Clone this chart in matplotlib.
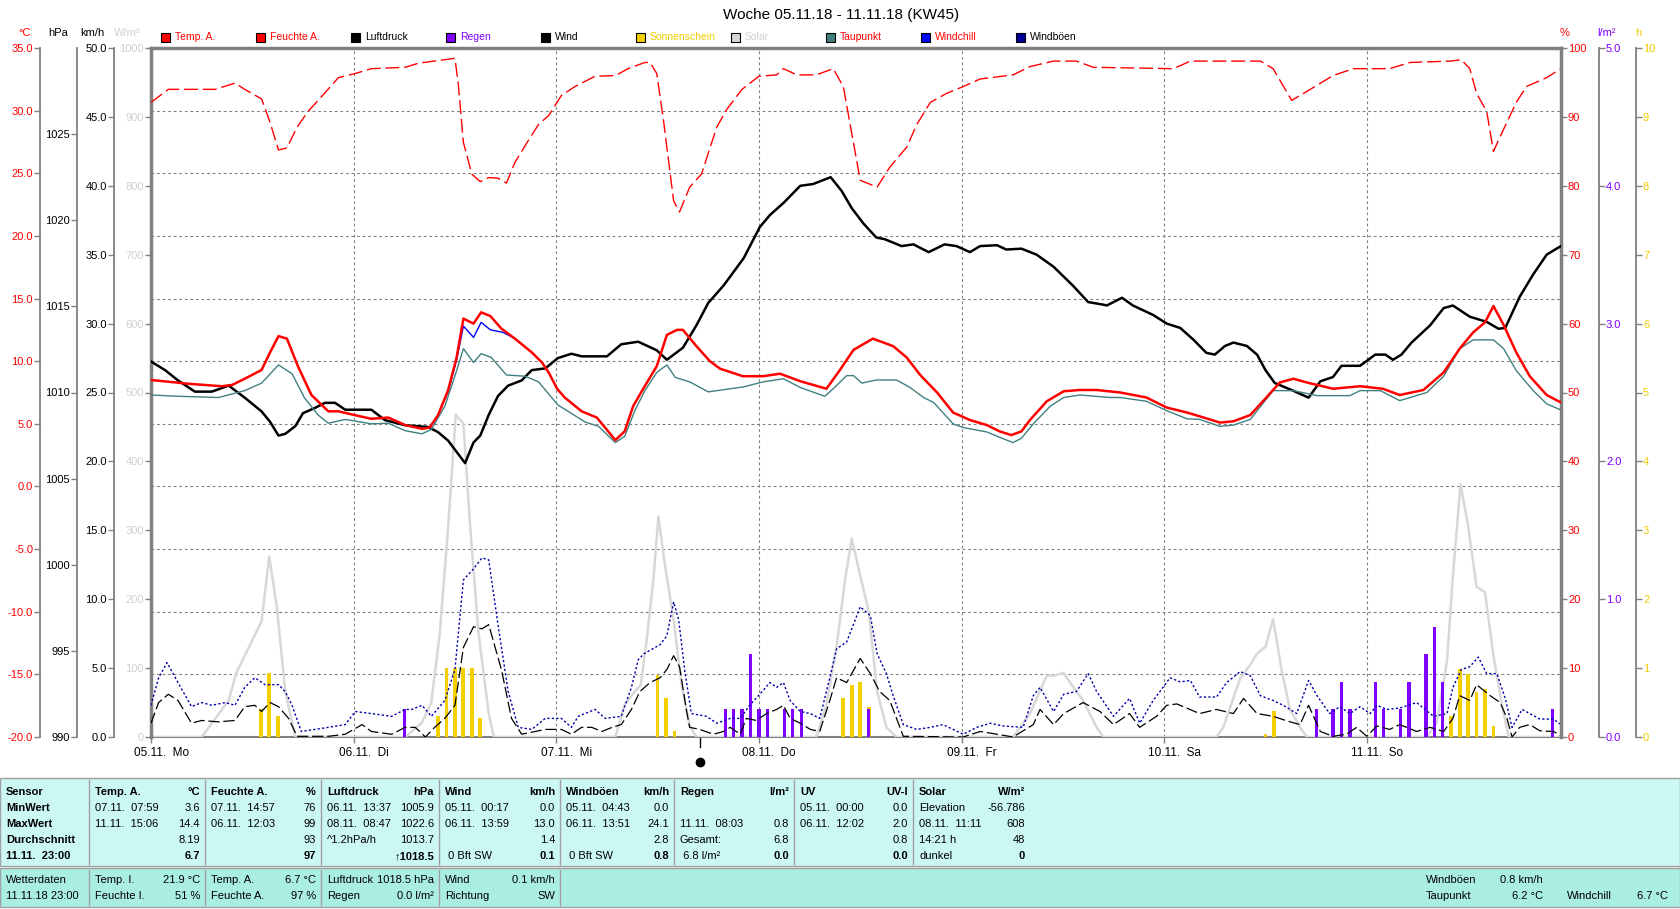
import matplotlib
matplotlib.use("Agg")
import matplotlib.pyplot as plt
from matplotlib.patches import Rectangle

plt.rcParams["font.family"] = ["Liberation Sans", "DejaVu Sans"]

# hours since 05.11.18 00:00
TEMP_H = [0, 4.4, 8.4, 9.6, 11.1, 13.1, 14.1, 15.1, 16.1, 17.4, 19.0, 21.0, 22.2, 24.1, 26.1,
          28.1, 30.1, 32.1, 33.0, 34.0, 35.2, 36.2, 37.0, 38.2, 39.1, 40.2, 41.5, 43.1, 45.1,
          46.3, 47.1, 48.1, 49.0, 51.0, 52.8, 55.0, 56.1, 57.1, 58.3, 59.9, 61.1, 62.3, 63.0,
          64.6, 66.2, 67.4, 70.1, 72.5, 74.5, 76.9, 80.0, 81.6, 83.2, 85.5, 87.9, 89.5, 91.1,
          93.1, 95.0, 97.0, 99.0, 100.5, 101.9, 103.1, 104.1, 106.1, 108.1, 110.0, 112.0, 114.8,
          117.9, 120.3, 122.7, 124.2, 126.6, 128.2, 130.2, 132.1, 133.7, 135.3, 136.9, 140.0,
          143.2, 145.9, 147.9, 150.7, 153.1, 155.0, 156.6, 158.0, 159.0, 160.2, 161.7, 163.3,
          165.3, 167.0]
TEMP = [8.5, 8.2, 8.0, 8.1, 8.6, 9.3, 10.7, 12.0, 11.8, 9.6, 7.3, 6.0, 6.0, 5.7, 5.4,
        5.5, 4.9, 4.6, 4.7, 5.7, 7.7, 10.3, 13.4, 13.0, 13.9, 13.6, 12.6, 11.8, 10.7,
        9.9, 9.1, 7.8, 7.1, 6.0, 5.5, 3.7, 4.4, 6.4, 7.8, 9.6, 12.1, 12.5, 12.5,
        11.2, 10.0, 9.4, 8.8, 8.8, 9.0, 8.4, 7.8, 9.3, 10.9, 11.8, 11.2, 10.3, 8.9,
        7.5, 5.9, 5.3, 4.9, 4.4, 4.1, 4.4, 5.3, 6.8, 7.6, 7.7, 7.7, 7.5,
        7.1, 6.3, 5.9, 5.6, 5.1, 5.2, 5.7, 7.1, 8.3, 8.6, 8.3, 7.8,
        8.0, 7.8, 7.3, 7.7, 9.1, 11.0, 12.3, 13.1, 14.4, 12.9, 10.7, 8.8,
        7.3, 6.7]

DEW_H = [0, 3.2, 8.0, 11.1, 13.1, 15.1, 16.7, 18.2, 19.8, 21.0, 23.0, 26.1, 28.1, 30.1, 32.1,
         33.2, 34.8, 36.2, 37.0, 38.2, 39.1, 40.3, 42.1, 44.3, 45.9, 48.2, 49.4, 51.4, 53.0,
         55.0, 56.1, 57.3, 58.5, 59.9, 61.1, 62.1, 63.8, 66.0, 68.6, 70.2, 72.5, 74.9, 76.9,
         79.8, 80.8, 82.4, 83.2, 84.2, 85.9, 88.3, 89.9, 91.5, 92.7, 95.0, 96.2, 99.0, 100.6,
         102.1, 103.1, 104.5, 106.5, 108.1, 110.0, 113.6, 114.8, 117.9, 120.3, 122.7, 124.2,
         126.6, 128.2, 130.2, 132.9, 135.3, 138.1, 142.0, 143.2, 145.6, 147.9, 151.1, 153.1,
         155.0, 156.6, 159.0, 160.2, 161.7, 163.7, 165.3, 167.0]
DEW = [7.3, 7.2, 7.1, 7.65, 8.25, 9.7, 9.0, 7.05, 5.7, 5.05, 5.35, 5.0, 5.05, 4.45, 4.2,
       4.55, 6.4, 9.25, 11.0, 9.9, 10.6, 10.3, 8.9, 8.8, 8.35, 6.5, 6.0, 5.15, 4.8,
       3.5, 4.0, 6.05, 7.65, 9.1, 9.7, 8.7, 8.35, 7.55, 7.8, 7.95, 8.35, 8.6, 7.9,
       7.2, 7.8, 8.85, 8.85, 8.25, 8.5, 8.5, 7.9, 7.1, 6.7, 5.0, 4.7, 4.35, 3.9,
       3.5, 3.85, 5.0, 6.4, 7.1, 7.3, 7.1, 7.1, 6.8, 6.05, 5.4, 5.35,
       4.8, 4.9, 5.35, 7.65, 7.65, 7.25, 7.25, 7.65, 7.65, 6.85, 7.5, 8.8,
       11.0, 11.7, 11.7, 11.0, 9.25, 7.65, 6.6, 6.1]

CHILL_H = [33.0, 34.0, 35.2, 36.2, 37.0, 38.2, 39.1, 40.2, 41.7, 43.1]
CHILL = [4.7, 5.7, 7.6, 10.1, 12.8, 11.9, 13.1, 12.5, 12.3, 11.8]

HUM_H = [0, 2.05, 7.6, 9.95, 11.1, 13.1, 14.1, 15.1, 16.1, 17.3, 18.6, 19.8, 22.2, 24.2, 26.1,
         30.1, 31.7, 36.0, 36.4, 37.0, 38.0, 39.0, 40.0, 41.1, 42.1, 43.1, 44.7, 45.9, 47.1,
         48.6, 50.2, 52.6, 55.0, 56.5, 58.5, 59.1, 59.9, 60.7, 61.9, 62.6, 63.8, 65.2, 67.0,
         68.2, 70.0, 72.0, 74.1, 74.9, 76.5, 78.8, 80.8, 82.0, 83.0, 84.0, 86.0, 87.5, 89.5,
         90.7, 92.3, 94.2, 96.2, 98.2, 102.1, 104.1, 106.9, 109.6, 111.6, 121.1, 123.1, 131.4,
         132.9, 135.1, 136.9, 140.0, 142.4, 146.7, 149.1, 153.9, 155.2, 156.2, 157.0, 158.2,
         159.0, 160.2, 161.7, 162.9, 165.3, 167.0]
HUM = [92.1, 94.0, 94.0, 94.9, 94.0, 92.6, 89.2, 85.2, 85.5, 88.5, 90.8, 92.4, 95.7, 96.3, 97.0,
       97.2, 97.8, 98.5, 94.7, 86.3, 81.7, 80.6, 81.2, 81.1, 80.4, 83.4, 86.6, 88.9, 90.2,
       93.1, 94.4, 95.9, 96.0, 97.0, 97.9, 97.9, 96.3, 89.5, 77.8, 76.2, 79.8, 81.7, 88.5,
       91.1, 94.0, 95.9, 96.1, 97.0, 96.1, 96.1, 97.0, 94.4, 87.6, 80.8, 79.8, 82.7, 85.6,
       88.9, 92.1, 93.4, 94.4, 95.5, 96.1, 97.3, 98.1, 98.1, 97.2, 97.0, 98.1, 98.1,
       97.0, 92.4, 93.7, 96.0, 97.0, 97.0, 97.9, 98.1, 98.3, 97.0, 93.4, 90.8,
       85.0, 88.2, 92.1, 94.4, 95.7, 97.0]

PRES_H = [0, 1.66, 3.2, 5.2, 7.2, 9.2, 11.1, 13.1, 14.1, 15.1, 15.9, 17.1, 18.0, 19.4, 20.6,
          21.8, 23.0, 26.1, 27.7, 30.1, 32.8, 34.0, 35.2, 37.2, 38.2, 39.0, 40.0, 41.1, 42.3,
          43.9, 45.1, 46.7, 48.2, 49.8, 51.0, 54.0, 55.7, 57.7, 59.9, 61.1, 63.0, 64.6, 66.0,
          67.8, 70.2, 72.1, 73.3, 74.9, 76.9, 78.4, 80.5, 81.8, 83.0, 84.4, 85.9, 86.9, 88.9,
          90.3, 92.1, 94.0, 95.4, 97.0, 98.2, 100.2, 101.3, 103.1, 104.9, 106.9, 109.2, 111.0,
          112.8, 113.2, 115.0, 116.3, 118.7, 120.3, 121.9, 123.5, 125.0, 126.0, 127.2, 128.2,
          129.8, 131.0, 132.0, 133.1, 135.3, 137.1, 138.5, 140.0, 141.0, 143.2, 145.0, 146.2,
          147.1, 148.1, 149.3, 151.5, 153.1, 154.2, 156.2, 158.2, 159.6, 160.4, 162.1, 163.7,
          165.3, 166.3, 167.0]
PRES = [1011.8, 1011.3, 1010.7, 1010.05, 1010.05, 1010.4, 1009.7, 1008.9, 1008.3, 1007.5,
        1007.6, 1008.05, 1008.8, 1009.1, 1009.4, 1009.4, 1009.0, 1009.0, 1008.4, 1008.1,
        1008.0, 1007.7, 1007.2, 1005.9, 1007.1, 1007.5, 1008.7, 1009.8, 1010.4, 1010.7,
        1011.3, 1011.4, 1012.0, 1012.25, 1012.1, 1012.1, 1012.8, 1012.95, 1012.45, 1011.9,
        1012.6, 1013.9, 1015.2, 1016.2, 1017.8, 1019.6, 1020.3, 1021.0, 1022.0, 1022.1,
        1022.5, 1021.7, 1020.7, 1019.8, 1019.0, 1018.9, 1018.5, 1018.6, 1018.15, 1018.6,
        1018.5, 1018.15, 1018.5, 1018.55, 1018.3, 1018.35, 1018.0, 1017.3, 1016.2, 1015.25,
        1015.1, 1015.05, 1015.5, 1015.05, 1014.5, 1014.0, 1013.75, 1013.05, 1012.3, 1012.2,
        1012.7, 1012.9, 1012.7, 1012.2, 1011.3, 1010.55, 1010.1, 1009.7, 1010.65, 1010.9,
        1011.55, 1011.55, 1012.2, 1012.2, 1011.9, 1012.2, 1012.9, 1013.9, 1014.9, 1015.05,
        1014.4, 1014.1, 1013.7, 1013.75, 1015.55, 1016.85, 1018.0, 1018.3, 1018.5]

SOL_H = [0, 6.0, 9.2, 10.1, 13.1, 14.0, 14.9, 15.9, 17.1, 30.1, 32.1, 33.2, 34.2, 35.2, 36.1,
         37.0, 37.8, 38.8, 40.0, 40.6, 55.0, 56.1, 57.3, 58.0, 58.7, 59.5, 60.1, 60.9, 61.9,
         62.8, 63.8, 64.6, 78.8, 80.0, 81.2, 82.2, 83.0, 84.0, 85.0, 86.0, 87.1, 88.3, 102.1,
         104.1, 106.1, 106.9, 108.1, 109.2, 110.4, 112.0, 112.8, 126.2, 127.0, 129.0, 130.2,
         131.0, 132.0, 132.9, 133.9, 134.9, 136.1, 136.9, 151.1, 152.3, 153.5, 154.2, 155.1,
         156.0, 157.0, 158.0, 159.0, 160.0, 160.8, 167.0]
SOL = [0, 0, 53, 93, 168, 262, 189, 66, 0, 0, 21, 50, 150, 306, 468,
       455, 306, 150, 34, 0, 0, 47, 66, 75, 140, 228, 320, 247, 170,
       79, 16, 0, 0, 47, 131, 228, 288, 234, 183, 66, 14, 0, 0,
       34, 89, 89, 93, 73, 53, 14, 0, 0, 14, 85, 105,
       121, 131, 171, 98, 40, 14, 0, 0, 21, 111, 234, 367,
       306, 218, 210, 118, 47, 0, 0]

WIND_H = [0, 0.9, 2.05, 3.2, 4.8, 6.0, 7.95, 9.95, 11.1, 12.3, 13.1, 14.1, 15.1, 16.3, 17.3,
          21.0, 23.0, 25.0, 26.1, 28.5, 30.1, 31.3, 32.5, 33.6, 34.8, 36.0, 37.0, 38.2, 39.2,
          40.0, 41.5, 42.7, 43.9, 46.7, 48.6, 49.8, 51.0, 52.2, 53.4, 54.6, 55.7, 56.9, 57.9,
          59.1, 60.3, 61.1, 61.9, 62.6, 63.4, 63.8, 65.0, 66.6, 67.8, 68.6, 69.8, 70.5, 71.7,
          72.9, 74.1, 74.9, 75.7, 76.9, 78.1, 79.2, 80.4, 81.2, 82.4, 84.0, 85.2, 86.3, 87.5,
          88.3, 89.1, 96.2, 98.2, 100.2, 102.1, 104.5, 105.3, 106.9, 108.1, 110.4, 112.4, 114.0,
          115.9, 117.1, 119.1, 120.3, 121.5, 124.2, 126.2, 128.2, 129.4, 131.0, 132.9, 134.9,
          136.1, 137.1, 138.5, 140.0, 141.6, 142.8, 144.0, 145.2, 146.7, 147.9, 149.9, 151.5,
          153.1, 154.2, 155.0, 156.2, 157.0, 158.6, 159.8, 160.6, 161.2, 162.1, 163.3, 164.5,
          166.1, 167.0]
WIND = [1.0, 2.5, 3.1, 2.65, 1.0, 1.2, 1.1, 1.2, 2.2, 2.3, 1.85, 2.5, 2.2, 1.35, 0.05,
        0.05, 0.2, 0.9, 0.4, 0.2, 0.7, 0.7, 0.0, 0.7, 1.35, 2.3, 6.5, 8.0, 7.85,
        8.15, 4.9, 1.35, 0.2, 0.55, 0.55, 0.2, 0.7, 0.7, 0.4, 0.7, 0.9, 2.0, 3.3,
        3.95, 4.3, 4.9, 5.9, 5.1, 2.0, 0.7, 0.55, 0.2, 0.4, 0.7, 0.2, 1.35, 1.2,
        1.7, 2.0, 2.3, 1.35, 1.0, 0.55, 0.4, 2.65, 4.3, 3.95, 5.7, 4.6, 3.3, 2.65,
        1.35, 0.05, 0.0, 0.4, 0.2, 0.0, 0.9, 2.0, 0.9, 1.7, 2.5, 1.85, 0.9,
        1.7, 0.7, 1.5, 2.3, 2.4, 1.7, 2.0, 1.7, 2.8, 1.7, 1.5, 1.1,
        0.9, 2.3, 0.4, 0.05, 0.2, 0.7, 0.05, 0.8, 0.55, 0.9, 0.4, 0.7,
        0.4, 1.35, 3.0, 2.65, 3.8, 3.0, 2.5, 1.35, 0.0, 0.7, 0.9, 0.45,
        0.4, 0.1]

GUST_H = [0, 0.9, 1.9, 3.2, 4.8, 6.0, 7.2, 8.8, 9.95, 11.1, 12.3, 13.5, 15.1, 15.9, 16.7,
          17.8, 21.0, 23.0, 24.2, 26.1, 28.5, 30.1, 30.9, 32.1, 33.2, 34.8, 36.0, 37.0, 38.2,
          39.2, 40.0, 41.1, 42.3, 43.5, 45.1, 46.7, 48.6, 49.8, 50.6, 52.6, 53.8, 55.7, 56.9,
          57.7, 58.4, 60.3, 61.1, 61.9, 62.5, 63.2, 64.0, 65.8, 67.0, 68.6, 69.8, 70.9, 72.1,
          73.3, 74.1, 74.9, 75.7, 76.9, 78.1, 79.2, 80.4, 81.2, 82.4, 84.0, 85.2, 86.0, 87.1,
          87.9, 89.1, 90.7, 92.3, 93.8, 96.2, 97.8, 99.4, 100.9, 103.3, 104.5, 105.3, 106.9,
          108.1, 109.6, 111.0, 112.0, 114.0, 115.9, 117.1, 118.7, 120.7, 121.9, 123.1, 124.2,
          126.2, 127.4, 129.0, 130.2, 131.4, 132.9, 134.1, 135.7, 137.1, 138.1, 139.6, 140.8,
          142.0, 143.2, 144.4, 145.2, 146.4, 147.9, 149.9, 151.9, 153.5, 154.2, 155.2, 156.2,
          157.2, 158.2, 159.4, 160.4, 161.2, 162.4, 163.3, 164.5, 166.1, 167.0]
GUST = [2.3, 4.3, 5.4, 3.95, 2.2, 2.5, 2.3, 2.5, 2.3, 3.6, 4.3, 3.8, 3.8, 3.3, 2.3,
        0.4, 0.7, 0.9, 1.85, 1.7, 1.5, 2.0, 2.0, 2.3, 1.5, 2.65, 4.9, 11.4, 12.2,
        13.0, 12.85, 8.15, 3.3, 0.7, 0.55, 1.35, 1.35, 0.7, 1.5, 2.0, 1.35, 1.5, 3.6,
        5.6, 6.05, 6.7, 7.35, 9.8, 8.5, 4.9, 1.7, 1.5, 1.0, 1.35, 1.35, 2.3, 3.1,
        3.95, 3.6, 3.95, 2.65, 1.85, 1.7, 1.35, 4.3, 6.4, 6.9, 9.45, 8.8, 6.05, 4.6,
        3.0, 0.9, 0.55, 0.7, 0.9, 0.2, 0.7, 1.0, 0.8, 0.7, 3.0, 3.6, 1.85,
        3.1, 3.3, 4.6, 3.3, 1.5, 2.8, 1.0, 2.65, 4.3, 4.0, 4.1, 2.9,
        2.9, 3.95, 4.75, 4.45, 3.0, 2.65, 2.3, 1.7, 4.1, 3.0, 1.7, 2.2,
        1.7, 2.2, 1.7, 2.3, 2.0, 2.1, 2.5, 1.5, 1.7, 3.6, 4.9, 5.1,
        5.8, 4.6, 4.6, 2.8, 0.7, 2.0, 1.7, 1.3, 1.3, 0.9]

RAIN_H = [30, 68, 69, 70, 71, 72, 73, 75, 76, 77, 85, 138, 140, 141, 142, 145, 146, 148, 149,
          151, 152, 153, 166]
RAIN = [0.2, 0.2, 0.2, 0.2, 0.6, 0.2, 0.2, 0.2, 0.2, 0.2, 0.2, 0.2, 0.2, 0.4, 0.2, 0.4, 0.2,
        0.2, 0.4, 0.6, 0.8, 0.4, 0.2]

SUN_H = [13, 14, 15, 34, 35, 36, 37, 38, 39, 60, 61, 62, 82, 83, 84, 85, 132, 133,
         154, 155, 156, 157, 158, 159]
SUN = [0.41, 0.93, 0.3, 0.3, 1.0, 1.0, 1.0, 1.0, 0.27, 0.9, 0.56, 0.08, 0.56, 0.76, 0.8, 0.43,
       0.05, 0.38, 0.3, 0.98, 0.92, 0.66, 0.69, 0.16]

DAY_LABELS = ["05.11.  Mo", "06.11.  Di", "07.11.  Mi", "08.11.  Do", "09.11.  Fr",
              "10.11.  Sa", "11.11.  So"]
MARKER_H = 65.0

LEGEND = [("Temp. A.", "#ff0000", "#ff0000"), ("Feuchte A.", "#ff0000", "#ff0000"),
          ("Luftdruck", "#000000", "#000000"), ("Regen", "#8000ff", "#8000ff"),
          ("Wind", "#000000", "#000000"), ("Sonnenschein", "#f5d000", "#f0cc00"),
          ("Solar", "#d8d8d8", "#d0d0d0"), ("Taupunkt", "#408080", "#ff0000"),
          ("Windchill", "#0000ff", "#ff0000"), ("Windböen", "#000099", "#000000")]

SUMMARY = [
    [("Sensor", ""), ("MinWert", ""), ("MaxWert", ""), ("Durchschnitt", ""), ("11.11.  23:00", "")],
    [("Temp. A.", "°C"), ("07.11.  07:59", "3.6"), ("11.11.  15:06", "14.4"), ("", "8.19"), ("", "6.7")],
    [("Feuchte A.", "%"), ("07.11.  14:57", "76"), ("06.11.  12:03", "99"), ("", "93"), ("", "97")],
    [("Luftdruck", "hPa"), ("06.11.  13:37", "1005.9"), ("08.11.  08:47", "1022.6"),
     ("^1.2hPa/h", "1013.7"), ("", "↑1018.5")],
    [("Wind", "km/h"), ("05.11.  00:17", "0.0"), ("06.11.  13:59", "13.0"), ("", "1.4"), (" 0 Bft SW", "0.1")],
    [("Windböen", "km/h"), ("05.11.  04:43", "0.0"), ("06.11.  13:51", "24.1"), ("", "2.8"), (" 0 Bft SW", "0.8")],
    [("Regen", "l/m²"), ("", ""), ("11.11.  08:03", "0.8"), ("Gesamt:", "6.8"), (" 6.8 l/m²", "0.0")],
    [("UV", "UV-I"), ("05.11.  00:00", "0.0"), ("06.11.  12:02", "2.0"), ("", "0.8"), ("", "0.0")],
    [("Solar", "W/m²"), ("Elevation", "-56.786"), ("08.11.  11:11", "608"), ("14:21 h", "48"), ("dunkel", "0")],
]
CURRENT = [
    [("Wetterdaten", ""), ("11.11.18 23:00", "")],
    [("Temp. I.", "21.9 °C"), ("Feuchte I.", "51 %")],
    [("Temp. A.", "6.7 °C"), ("Feuchte A.", "97 %")],
    [("Luftdruck", "1018.5 hPa"), ("Regen", "0.0 l/m²")],
    [("Wind", "0.1 km/h"), ("Richtung", "SW")],
]
CURRENT_EXTRA = [("Windböen", "0.8 km/h", "", ""), ("Taupunkt", "6.2 °C", "Windchill", "6.7 °C")]

GRAY = "#808080"
W_PX, H_PX = 1680, 909


def fx(px):
    return px / W_PX


def fy(py):
    return 1 - py / H_PX


fig = plt.figure(figsize=(16.8, 9.09), dpi=100)
ax = fig.add_axes([fx(151), fy(737), 1410 / W_PX, 689 / H_PX])
ax.set_xlim(0, 167)
ax.set_ylim(-20, 35)
ax.set_yticks(range(-20, 36, 5), [f"{v:.1f}" for v in range(-20, 36, 5)])
ax.tick_params(axis="y", length=4, width=1, color=GRAY, labelcolor="#ff0000", labelsize=8, pad=1)
ax.set_xticks(range(0, 168, 24), [])
ax.tick_params(axis="x", length=4, width=1, color=GRAY)
ax.spines["left"].set_position(("axes", (40 - 151) / 1410))
ax.spines["left"].set_color(GRAY)
ax.spines["left"].set_linewidth(1.3)
ax.spines["right"].set_visible(False)
for s in ("top", "bottom"):
    ax.spines[s].set_color(GRAY)
ax.spines["top"].set_linewidth(2.5)
ax.spines["bottom"].set_linewidth(1.5)

for v in range(-15, 35, 5):
    ax.axhline(v, color=GRAY, lw=0.8, dashes=(2.5, 2.5), zorder=0)
for d in range(1, 7):
    ax.axvline(d * 24, color=GRAY, lw=0.8, dashes=(2.5, 2.5), zorder=0)

xt = ax.get_xaxis_transform()
for i, lab in enumerate(DAY_LABELS):
    ax.text(i * 24 + 1.2, -0.023, lab, transform=xt, ha="center", va="center", fontsize=8.5)
ax.plot([MARKER_H, MARKER_H], [0, -0.014], color="black", lw=1, transform=xt, clip_on=False)
ax.plot([MARKER_H], [-0.037], "o", color="black", ms=6, transform=xt, clip_on=False)


def scale_axis(lo, hi, side=None, pos=0.0, ticks=(), labels=(), color="black", width=1.3):
    a = ax.twinx()
    a.set_ylim(lo, hi)
    for s in a.spines.values():
        s.set_visible(False)
    if side is None:
        a.set_yticks([])
        return a
    sp = a.spines[side]
    sp.set_visible(True)
    sp.set_position(("axes", pos))
    sp.set_color(GRAY)
    sp.set_linewidth(width)
    if side == "left":
        a.yaxis.tick_left()
    else:
        a.yaxis.tick_right()
    a.set_yticks(ticks, labels)
    a.tick_params(axis="y", length=4, width=1, color=GRAY, labelcolor=color, labelsize=8, pad=1)
    return a


a_sol = scale_axis(0, 1000, "left", 0.0, range(0, 1001, 100),
                   [str(v) for v in range(0, 1001, 100)], "#d0d0d0", 2.5)
a_sol.plot(SOL_H, SOL, color="#d8d8d8", lw=1.8)

a_sun = scale_axis(0, 10, "right", (1636 - 151) / 1410, range(0, 11),
                   [str(v) for v in range(0, 11)], "#f0cc00")
a_sun.bar(SUN_H, SUN, width=0.45, color="#f5d000")

a_rain = scale_axis(0, 5, "right", (1599 - 151) / 1410, range(0, 6),
                    [f"{v:.1f}" for v in range(0, 6)], "#8000ff")
a_rain.bar(RAIN_H, RAIN, width=0.38, color="#8000ff")

a_wind = scale_axis(0, 50, "left", (114 - 151) / 1410, range(0, 51, 5),
                    [f"{v:.1f}" for v in range(0, 51, 5)], "black")
a_wind.plot(GUST_H, GUST, color="#0000aa", lw=1, dashes=(1.6, 1.6))
a_wind.plot(WIND_H, WIND, color="black", lw=0.9, dashes=(9, 3))

a_hum = scale_axis(0, 100, "right", 1.0, range(0, 101, 10),
                   [str(v) for v in range(0, 101, 10)], "#ff0000", 2.5)
a_hum.plot(HUM_H, HUM, color="#ff0000", lw=1, dashes=(10, 3.5))

a_p = scale_axis(990, 1030, "left", (77 - 151) / 1410, range(990, 1026, 5),
                 [str(v) for v in range(990, 1026, 5)], "black")
a_p.plot(PRES_H, PRES, color="black", lw=1.8)

a_t = scale_axis(-20, 35)
a_t.plot(DEW_H, DEW, color="#408080", lw=1)
a_t.plot(CHILL_H, CHILL, color="#0000ff", lw=1)
a_t.plot(TEMP_H, TEMP, color="#ff0000", lw=1.8)

# title, units, legend
fig.text(fx(841), fy(15), "Woche 05.11.18 - 11.11.18 (KW45)", ha="center", va="center", fontsize=11)
for txt, x, col in [("°C", 25, "#ff0000"), ("hPa", 58, "black"), ("km/h", 92, "black"),
                    ("W/m²", 127, "#d0d0d0"), ("%", 1565, "#ff0000"), ("l/m²", 1607, "#8000ff"),
                    ("h", 1638, "#f0cc00")]:
    fig.text(fx(x), fy(33), txt, ha="center", va="center", fontsize=8, color=col)
for i, (name, sq, tc) in enumerate(LEGEND):
    x0 = 161 + 95 * i
    fig.add_artist(Rectangle((fx(x0), fy(42)), 9 / W_PX, 9 / H_PX, transform=fig.transFigure,
                             facecolor=sq, edgecolor="black", lw=0.8))
    fig.text(fx(x0 + 14), fy(37.5), name, ha="left", va="center", fontsize=7.5, color=tc)

# summary table
fig.add_artist(Rectangle((0, fy(866)), 1, 88 / H_PX, transform=fig.transFigure,
                         facecolor="#ccf8f4", edgecolor="#a0a0a0", lw=1))
fig.add_artist(Rectangle((0, fy(907)), 1, 39 / H_PX, transform=fig.transFigure,
                         facecolor="#aaeee2", edgecolor="#a0a0a0", lw=1))
col_x = [0, 89, 205, 321, 439, 560, 674, 794, 913, 1030]
for x in col_x[1:-1]:
    fig.add_artist(plt.Line2D([fx(x), fx(x)], [fy(780), fy(864)], transform=fig.transFigure,
                              color="#a0a0a0", lw=1))
for x in col_x[1:6]:
    fig.add_artist(plt.Line2D([fx(x), fx(x)], [fy(870), fy(905)], transform=fig.transFigure,
                              color="#a0a0a0", lw=1))

row_y = [792, 808, 824, 840, 856]
for c, col in enumerate(SUMMARY):
    xl, xr = col_x[c] + 6, col_x[c + 1] - 5
    for r, (lt, rt) in enumerate(col):
        w_left = "bold" if (c == 0 or r == 0) else "normal"
        w_right = "bold" if (r == 0 or r == 4) else "normal"
        if lt:
            fig.text(fx(xl), fy(row_y[r]), lt, ha="left", va="center", fontsize=8, fontweight=w_left)
        if rt:
            fig.text(fx(xr), fy(row_y[r]), rt, ha="right", va="center", fontsize=8, fontweight=w_right)

cur_y = [880, 896]
for c, col in enumerate(CURRENT):
    xl, xr = col_x[c] + 6, col_x[c + 1] - 5
    for r, (lt, rt) in enumerate(col):
        fig.text(fx(xl), fy(cur_y[r]), lt, ha="left", va="center", fontsize=8)
        if rt:
            fig.text(fx(xr), fy(cur_y[r]), rt, ha="right", va="center", fontsize=8)
for r, (l1, v1, l2, v2) in enumerate(CURRENT_EXTRA):
    fig.text(fx(1426), fy(cur_y[r]), l1, ha="left", va="center", fontsize=8)
    fig.text(fx(1543), fy(cur_y[r]), v1, ha="right", va="center", fontsize=8)
    if l2:
        fig.text(fx(1567), fy(cur_y[r]), l2, ha="left", va="center", fontsize=8)
        fig.text(fx(1668), fy(cur_y[r]), v2, ha="right", va="center", fontsize=8)

fig.savefig("out.png", dpi=100)
